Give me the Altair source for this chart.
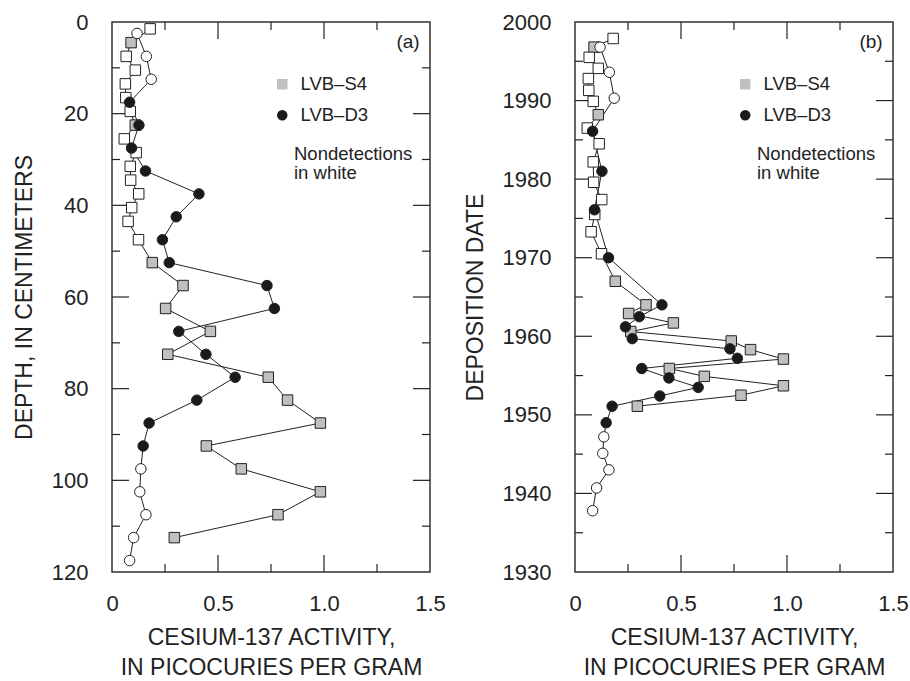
import altair as alt
import pandas as pd

FONT = "Liberation Sans"
INK = "#222222"

SERIES = ["LVB–S4", "LVB–D3"]
SERIES_FILL = ["#c0c0c0", "#1a1a1a"]
SERIES_SHAPE = ["square", "circle"]

# Core LVB-S4
S4_DEPTH = [1.5, 4.5, 7.5, 10.5, 13.5, 16.5, 19.5, 22.5, 25.5, 28.5, 31.5, 34.5, 37.5, 40.5, 43.5,
            47.5, 52.5, 57.5, 62.5, 67.5, 72.5, 77.5, 82.5, 87.5, 92.5, 97.5, 102.5, 107.5, 112.5]
S4_DATE = [1997.9, 1996.8, 1995.5, 1994.1, 1992.8, 1991.3, 1989.9, 1988.2, 1986.5, 1984.5, 1982.2,
           1979.6, 1977.4, 1975.5, 1973.3, 1970.5, 1967.0, 1964.0, 1962.9, 1961.7, 1960.6, 1959.4,
           1958.3, 1957.1, 1955.9, 1954.9, 1953.7, 1952.5, 1951.1]
S4_ACT = [0.18, 0.09, 0.067, 0.11, 0.063, 0.065, 0.086, 0.11, 0.058, 0.114, 0.086, 0.088, 0.126,
          0.093, 0.076, 0.125, 0.19, 0.335, 0.253, 0.464, 0.263, 0.737, 0.828, 0.983, 0.445,
          0.61, 0.983, 0.783, 0.294]
S4_DETECT = [0, 1, 0, 0, 0, 0, 0, 1, 0, 0, 0, 0, 0, 0, 0,
             0, 1, 1, 1, 1, 1, 1, 1, 1, 1, 1, 1, 1, 1]

# Core LVB-D3
D3_DEPTH = [2.5, 7.5, 12.5, 17.5, 22.5, 27.5, 32.5, 37.5, 42.5, 47.5, 52.5, 57.5, 62.5, 67.5,
            72.5, 77.5, 82.5, 87.5, 92.5, 97.5, 102.5, 107.5, 112.5, 117.5]
D3_DATE = [1996.8, 1993.6, 1990.3, 1986.1, 1981.0, 1976.1, 1970.0, 1964.0, 1962.5, 1961.2,
           1959.7, 1958.4, 1957.2, 1955.9, 1954.7, 1953.5, 1952.4, 1951.1, 1949.0, 1947.2,
           1945.1, 1943.0, 1940.7, 1937.8]
D3_ACT = [0.118, 0.162, 0.185, 0.083, 0.127, 0.092, 0.158, 0.41, 0.303, 0.238, 0.27, 0.731,
          0.766, 0.315, 0.443, 0.581, 0.40, 0.175, 0.147, 0.136, 0.131, 0.16, 0.102, 0.083]
D3_DETECT = [0, 0, 0, 1, 1, 1, 1, 1, 1, 1, 1, 1, 1, 1, 1, 1, 1, 1, 1, 0, 0, 0, 0, 0]

A_Y_LABELS = [0, 20, 40, 60, 80, 100, 120]
A_Y_MAJOR = [20, 40, 60, 80, 100]
A_Y_MINOR = [10, 30, 50, 70, 90, 110]
B_Y_LABELS = [1930, 1940, 1950, 1960, 1970, 1980, 1990, 2000]
B_Y_MAJOR = [1940, 1950, 1960, 1970, 1980, 1990]
B_Y_MINOR = [1935, 1945, 1955, 1965, 1975, 1985, 1995]
X_LABELS = [0, 0.5, 1.0, 1.5]
X_MAJOR = [0.5, 1.0]
X_MINOR = [0.25, 0.75, 1.25]

W, H = 318, 550
MAJOR_LEN, MINOR_LEN = 17, 8


def build_df(pos_s4, pos_d3):
    rows = []
    for i, (p, a, d) in enumerate(zip(pos_s4, S4_ACT, S4_DETECT)):
        rows.append({"series": SERIES[0], "pos": p, "act": a, "detect": d, "idx": i})
    for i, (p, a, d) in enumerate(zip(pos_d3, D3_ACT, D3_DETECT)):
        rows.append({"series": SERIES[1], "pos": p, "act": a, "detect": d, "idx": i})
    return pd.DataFrame(rows)


def panel(df, ydomain, reverse, ylabels, ymajor, yminor, ytitle, tag):
    xscale = alt.Scale(domain=[0, 1.5], nice=False, zero=False)
    yscale = alt.Scale(domain=ydomain, reverse=reverse, nice=False, zero=False)

    xaxis = alt.Axis(values=X_LABELS,
                     labelExpr="datum.value == 0 ? '0' : format(datum.value, '.1f')",
                     title=["CESIUM-137 ACTIVITY,", "IN PICOCURIES PER GRAM"],
                     ticks=False, domain=False, grid=False, labelFlush=False,
                     labelFontSize=22, labelPadding=21,
                     titleFontSize=23, titleFontWeight="normal", titlePadding=12,
                     titleLineHeight=30)
    yaxis = alt.Axis(values=ylabels, format="d", title=ytitle,
                     ticks=False, domain=False, grid=False, labelFlush=False,
                     labelFontSize=22, labelPadding=24,
                     titleFontSize=23, titleFontWeight="normal", titlePadding=15)

    legend = alt.Legend(orient="none", legendX=161, legendY=53, title=None,
                        labelFontSize=18.5, labelFont=FONT, labelColor=INK,
                        symbolSize=110, symbolStrokeColor=INK, symbolStrokeWidth=1,
                        labelOffset=9, rowPadding=12, padding=0)

    X = lambda f: alt.X(f, scale=xscale, axis=xaxis)
    Y = lambda f: alt.Y(f, scale=yscale, axis=yaxis)

    lines = alt.Chart(df).mark_line(color=INK, strokeWidth=1).encode(
        x=X("act:Q"), y=Y("pos:Q"),
        detail="series:N",
        order="idx:Q",
    )
    points = alt.Chart(df).mark_point(filled=True, opacity=1, size=110,
                                      stroke=INK, strokeWidth=1).encode(
        x=X("act:Q"), y=Y("pos:Q"),
        shape=alt.Shape("series:N", scale=alt.Scale(domain=SERIES, range=SERIES_SHAPE),
                        legend=legend),
        fill=alt.condition("datum.detect == 0", alt.value("white"),
                           alt.Fill("series:N",
                                    scale=alt.Scale(domain=SERIES, range=SERIES_FILL),
                                    legend=legend)),
    )

    def yticks(values, length, side):
        d = pd.DataFrame({"v": values})
        if side == "left":
            xs = dict(x=alt.value(0), x2=alt.value(length))
        else:
            xs = dict(x=alt.value(W - length), x2=alt.value(W))
        return alt.Chart(d).mark_rule(color=INK, strokeWidth=1.2).encode(
            y=Y("v:Q"), **xs)

    def xticks(values, length, side):
        d = pd.DataFrame({"v": values})
        if side == "top":
            ys = dict(y=alt.value(0), y2=alt.value(length))
        else:
            ys = dict(y=alt.value(H - length), y2=alt.value(H))
        return alt.Chart(d).mark_rule(color=INK, strokeWidth=1.2).encode(
            x=X("v:Q"), **ys)

    ticks = []
    for side in ("left", "right"):
        ticks.append(yticks(ymajor, MAJOR_LEN, side))
        ticks.append(yticks(yminor, MINOR_LEN, side))
    for side in ("top", "bottom"):
        ticks.append(xticks(X_MAJOR, MAJOR_LEN, side))
        ticks.append(xticks(X_MINOR, MINOR_LEN, side))

    tag_text = alt.Chart(pd.DataFrame({"t": [tag]})).mark_text(
        font=FONT, fontSize=19, color=INK, align="center", baseline="middle"
    ).encode(x=alt.value(296), y=alt.value(20), text="t:N")

    note = alt.Chart(pd.DataFrame({"t": ["Nondetections\nin white"]})).mark_text(
        font=FONT, fontSize=18.5, color=INK, align="left", baseline="alphabetic",
        lineBreak="\n", lineHeight=19
    ).encode(x=alt.value(182), y=alt.value(138), text="t:N")

    return alt.layer(lines, *ticks, points, tag_text, note).properties(width=W, height=H)


df_a = build_df(S4_DEPTH, D3_DEPTH)
df_b = build_df(S4_DATE, D3_DATE)

pa = panel(df_a, [0, 120], True, A_Y_LABELS, A_Y_MAJOR, A_Y_MINOR,
           "DEPTH, IN CENTIMETERS", "(a)")
pb = panel(df_b, [1930, 2000], False, B_Y_LABELS, B_Y_MAJOR, B_Y_MINOR,
           "DEPOSITION DATE", "(b)")

chart = alt.hconcat(pa, pb, spacing=145, bounds="flush").resolve_scale(
    fill="independent", shape="independent"
).properties(
    padding={"left": 12, "top": 10, "right": 0, "bottom": 0},
    background="white",
).configure_view(
    stroke="#333333", strokeWidth=1.5
).configure_axis(
    labelFont=FONT, titleFont=FONT, labelColor=INK, titleColor=INK
)

chart.save("out.html", embed_options={"renderer": "svg", "actions": False})
